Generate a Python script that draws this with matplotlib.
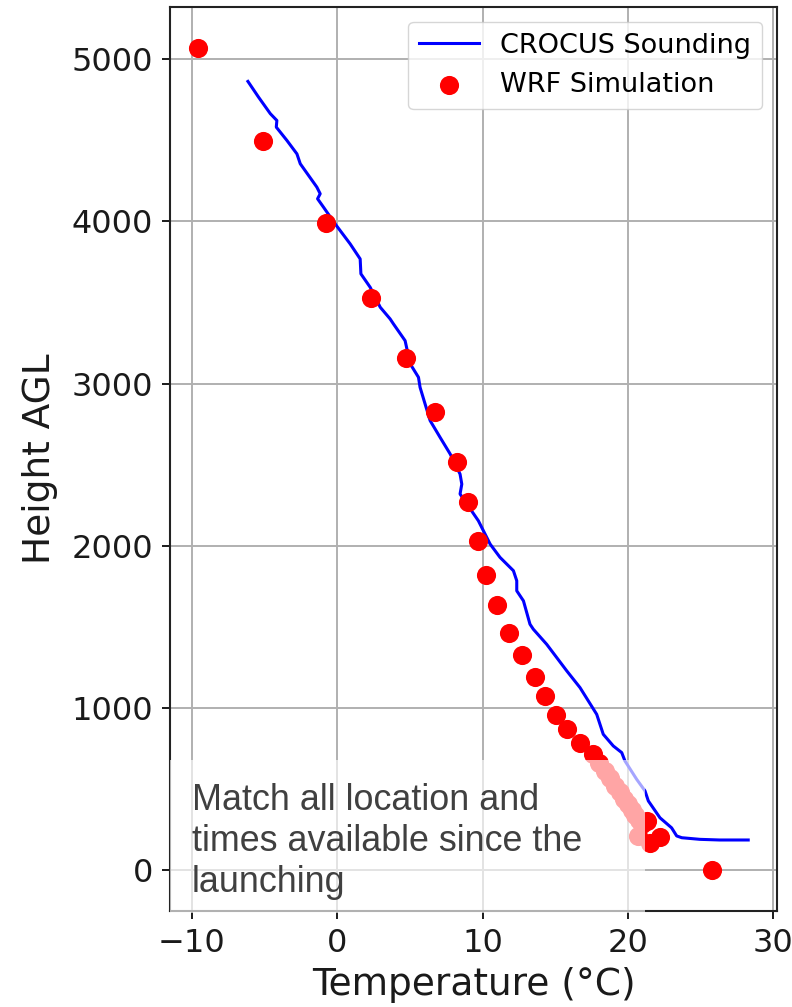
import matplotlib
matplotlib.use("Agg")
import matplotlib.pyplot as plt
from matplotlib.patches import Rectangle

# CROCUS sounding (temperature in degC, height AGL in m)
sounding_temp = [-6.14, -5.41, -4.60, -4.15, -4.19, -3.46, -2.77, -2.54, -1.40, -1.17,
                 -1.35, -0.94, -0.14, 0.89, 1.58, 1.63, 2.27, 2.96, 3.64, 3.87,
                 4.67, 5.02, 5.59, 5.70, 6.39, 7.08, 7.77, 8.45, 8.57, 8.45,
                 9.71, 10.52, 11.20, 12.12, 12.35, 12.35, 12.81, 13.26, 13.49, 14.41,
                 15.79, 16.70, 17.85, 18.30, 18.99, 19.57, 19.79, 20.60, 21.17, 21.40,
                 22.20, 23.00, 23.35, 23.70, 24.95, 26.30, 28.27]
sounding_height = [4864, 4767, 4665, 4623, 4582, 4500, 4417, 4356, 4212, 4171,
                   4140, 4088, 3985, 3862, 3769, 3677, 3594, 3471, 3399, 3368,
                   3265, 3122, 3039, 2977, 2772, 2668, 2566, 2442, 2380, 2319,
                   2154, 2010, 1928, 1846, 1784, 1722, 1660, 1516, 1485, 1392,
                   1228, 1125, 960, 837, 765, 724, 673, 559, 488, 426,
                   322, 260, 210, 199, 189, 185, 185]

# WRF simulation points
wrf_temp = [-9.55, -5.09, -0.76, 2.34, 4.74, 6.74, 8.25, 9.00, 9.70, 10.24,
            11.00, 11.80, 12.70, 13.60, 14.30, 15.05, 15.79, 16.70, 17.60, 18.01,
            18.40, 18.75, 19.10, 19.42, 19.73, 20.00, 20.28, 20.51, 20.75, 20.94,
            20.69, 21.30, 22.20, 21.50, 25.76]
wrf_height = [5068, 4494, 3988, 3531, 3160, 2827, 2519, 2272, 2031, 1821,
              1636, 1463, 1327, 1191, 1074, 957, 867, 785, 713, 660,
              610, 565, 520, 480, 440, 405, 370, 340, 310, 285,
              210, 300, 205, 165, 0]

x_ticks = [-10, 0, 10, 20, 30]
y_ticks = [0, 1000, 2000, 3000, 4000, 5000]

fig = plt.figure(figsize=(7.92, 10.07), dpi=100)
ax = fig.add_axes([170/792, 96/1007, 607/792, 904/1007])

ax.plot(sounding_temp, sounding_height, color="blue", lw=2.2, label="CROCUS Sounding")
ax.scatter(wrf_temp, wrf_height, color="red", s=190, lw=0, label="WRF Simulation", zorder=3)

ax.set_xlim(-11.5, 30.25)
ax.set_ylim(-253, 5323)
ax.set_xticks(x_ticks)
ax.set_yticks(y_ticks)
ax.grid(True, color="#b0b0b0", lw=1.4)
ax.set_axisbelow(True)
ax.tick_params(labelsize=23, length=6, width=1.4, pad=6, colors="#1a1a1a")
for sp in ax.spines.values():
    sp.set_linewidth(1.5)
    sp.set_color("#222222")

ax.set_xlabel("Temperature (°C)", fontsize=27, color="#1a1a1a", labelpad=6)
ax.set_ylabel("Height AGL", fontsize=27, color="#1a1a1a", labelpad=10)

leg = ax.legend(loc="upper right", fontsize=19.5, borderaxespad=0.55, handlelength=2.2)

# semi-transparent caption box laid over the lower-left of the plot
fig.patches.append(Rectangle((170/792, 94/1007), 475/792, 153/1007,
                             transform=fig.transFigure, facecolor="white",
                             alpha=0.65, edgecolor="none", zorder=5))
fig.text(192/792, 1 - 783/1007,
         "Match all location and\ntimes available since the\nlaunching",
         fontsize=25.8, family="Liberation Sans", color="#404040",
         va="top", ha="left", linespacing=1.22, zorder=6)

fig.savefig("out.png", dpi=100)
